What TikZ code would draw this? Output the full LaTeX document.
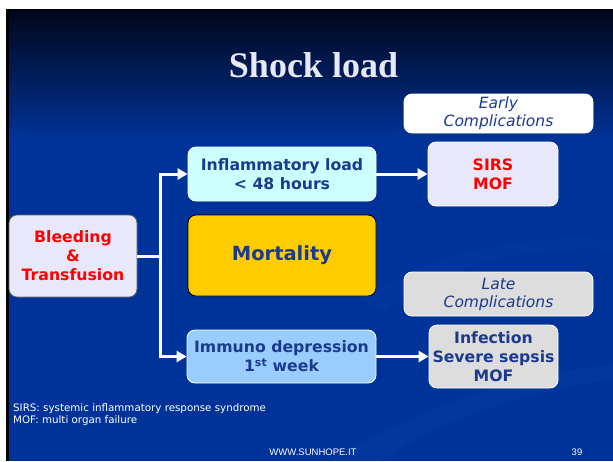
\documentclass[tikz,border=0pt]{standalone}
\usepackage{fontspec}
\newfontfamily\vfont{DejaVu Sans}
\newfontfamily\tfont{Liberation Serif}
\newfontfamily\afont{Liberation Sans}
\usetikzlibrary{arrows.meta}
\definecolor{bgblue}{HTML}{003399}
\definecolor{bgtop}{HTML}{00061A}
\definecolor{tblue}{HTML}{1B3A8F}
\definecolor{lav}{HTML}{E8E8FA}
\definecolor{cyanbox}{HTML}{CCFFFF}
\definecolor{gold}{HTML}{FFCC00}
\definecolor{lblue}{HTML}{99CCFF}
\definecolor{lgray}{HTML}{DDDDDD}
\definecolor{titlecol}{HTML}{E8E8F8}
\definecolor{swoosh}{HTML}{0B40A6}
\begin{document}
\begin{tikzpicture}[x=1pt,y=-1pt,
  box/.style={rounded corners=8pt, draw=#1, line width=0.8pt, inner sep=0pt, align=center,
    font={\vfont\bfseries\fontsize{15.7}{19}\selectfont}, text=tblue},
  notebox/.style={rounded corners=8pt, draw=#1, line width=0.8pt, inner sep=0pt, align=center,
    font={\vfont\itshape\fontsize{15.5}{18}\selectfont}, text=tblue},
  conn/.style={white, line width=3pt},
  arr/.style={white, line width=3pt, -{Triangle[length=10pt,width=11pt]}},
  foot/.style={white, inner sep=0pt, anchor=base west, font={\vfont\fontsize{10.3}{12}\selectfont}}
]
\useasboundingbox (0,0) rectangle (613,461);
% background
\fill[white] (0,0) rectangle (613,461);
\fill[black] (6,9) rectangle (613,461);
\shade[top color=bgtop, bottom color=bgblue] (9,10) rectangle (613,140);
\fill[bgblue] (9,139.5) rectangle (613,461);
\fill[swoosh, opacity=0.35] (330,461) .. controls (430,400) and (530,372) .. (613,365) -- (613,380) .. controls (540,388) and (450,415) .. (380,461) -- cycle;
\fill[swoosh, opacity=0.3] (360,300) .. controls (430,250) and (540,232) .. (613,240) -- (613,250) .. controls (540,245) and (440,262) .. (385,312) -- cycle;
% title
\node[anchor=base, text=titlecol, inner sep=0, font={\tfont\bfseries\fontsize{36}{40}\selectfont}] (title) at (313.5,77) {Shock load};
% boxes
\node[notebox=white, fill=white, minimum width=189pt, minimum height=39pt] (early) at (498.5,113.5) {Early\\Complications};
\node[box=white, fill=lav, text=red, minimum width=130pt, minimum height=64pt] (sirs) at (493,174) {SIRS\\MOF};
\node[box=white, fill=cyanbox, minimum width=188pt, minimum height=54pt] (infl) at (282,174) {Inflammatory load\\< 48 hours};
\node[box=black!60, fill=lav, text=red, minimum width=128pt, minimum height=82pt] (bleed) at (73,256) {Bleeding\\\&\\Transfusion};
\node[box=black, fill=gold, minimum width=188pt, minimum height=81pt, font={\vfont\bfseries\fontsize{19.5}{22}\selectfont}] (mort) at (282,255.5) {Mortality};
\node[notebox=white, fill=lgray, minimum width=189pt, minimum height=44pt] (late) at (498.5,294) {Late\\Complications};
\node[box=white, fill=lblue, minimum width=189pt, minimum height=53pt] (immuno) at (281.5,356.5) {Immuno depression\\1\textsuperscript{st} week};
\node[box=white, fill=lgray, minimum width=129pt, minimum height=63pt] (infect) at (493.5,356.5) {Infection\\Severe sepsis\\MOF};
% connectors
\coordinate (jm) at (160,256);
\draw[conn] (bleed.east) -- (jm);
\draw[arr] (jm) |- (infl.west);
\draw[arr] (jm) |- (immuno.west);
\draw[arr] (infl.east) -- (sirs.west);
\draw[arr] (immuno.east) -- (infect.west);
% footnotes
\node[foot] (fn1) at (13,411) {SIRS: systemic inflammatory response syndrome};
\node[foot] (fn2) at (13,423) {MOF: multi organ failure};
\node[white, inner sep=0, anchor=base, font={\afont\fontsize{9.5}{11}\selectfont}] (web) at (313,455) {WWW.SUNHOPE.IT};
\node[white, inner sep=0, anchor=base, font={\afont\fontsize{9.5}{11}\selectfont}] (page) at (577,455) {39};
\end{tikzpicture}
\end{document}
